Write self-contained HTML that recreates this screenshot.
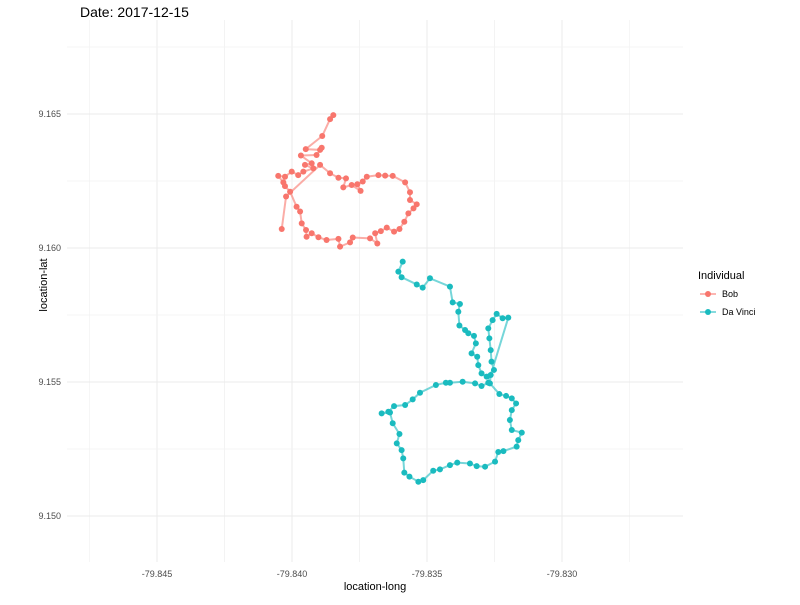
<!DOCTYPE html>
<html><head><meta charset="utf-8"><style>
body{margin:0;background:#fff;font-family:"Liberation Sans",sans-serif;}
svg text{font-family:"Liberation Sans",sans-serif;}
</style></head><body>
<svg id="chart" width="800" height="600">
<text x="80" y="17" font-size="14" fill="#000">Date: 2017-12-15</text>
<g id="grid"></g><g id="tracks"></g><g id="axes"></g>
<text x="375" y="590" font-size="11" text-anchor="middle" fill="#000">location-long</text>
<text transform="translate(47,285) rotate(-90)" font-size="11" text-anchor="middle" fill="#000">location-lat</text>
<g>
<text x="698" y="279" font-size="11" fill="#000">Individual</text>
<g><line x1="700" y1="294" x2="716" y2="294" stroke="#F8766D" stroke-width="1.5" opacity="0.7"/><circle cx="708" cy="294" r="3" fill="#F8766D"/><text x="722" y="297" font-size="9" fill="#000">Bob</text></g>
<g><line x1="700" y1="312" x2="716" y2="312" stroke="#1ABBBF" stroke-width="1.5" opacity="0.7"/><circle cx="708" cy="312" r="3" fill="#1ABBBF"/><text x="722" y="315" font-size="9" fill="#000">Da Vinci</text></g>
</g>
</svg>
<script>
const xTicks=[-79.845,-79.840,-79.835,-79.830];
const xTickLabels=["-79.845","-79.840","-79.835","-79.830"];
const yTicks=[9.150,9.155,9.160,9.165];
const yTickLabels=["9.150","9.155","9.160","9.165"];
const bobLon=[-79.83847,-79.83859,-79.83888,-79.83949,-79.83896,-79.83890,-79.83909,-79.83967,-79.83927,-79.83952,-79.83921,-79.83958,-79.83977,-79.84001,-79.84026,-79.84051,-79.84032,-79.84026,-79.84007,-79.83983,-79.83970,-79.83964,-79.83948,-79.83946,-79.83927,-79.83902,-79.83872,-79.83828,-79.83822,-79.83785,-79.83775,-79.83711,-79.83684,-79.83692,-79.83671,-79.83649,-79.83622,-79.83602,-79.83584,-79.83569,-79.83550,-79.83538,-79.83563,-79.83563,-79.83581,-79.83627,-79.83655,-79.83680,-79.83723,-79.83738,-79.83758,-79.83746,-79.83779,-79.83810,-79.83800,-79.83828,-79.83859,-79.83896,-79.84022,-79.84038];
const bobLat=[9.16496,9.16481,9.16418,9.16369,9.16366,9.16374,9.16347,9.16345,9.16316,9.16310,9.16297,9.16285,9.16272,9.16285,9.16266,9.16269,9.16245,9.16231,9.16210,9.16154,9.16136,9.16092,9.16067,9.16042,9.16055,9.16040,9.16030,9.16034,9.16005,9.16021,9.16039,9.16036,9.16017,9.16055,9.16063,9.16076,9.16061,9.16071,9.16098,9.16129,9.16148,9.16163,9.16179,9.16208,9.16245,9.16269,9.16270,9.16272,9.16266,9.16248,9.16238,9.16213,9.16235,9.16226,9.16260,9.16262,9.16279,9.16310,9.16192,9.16071];
const dvLon=[-79.83590,-79.83606,-79.83594,-79.83538,-79.83516,-79.83489,-79.83415,-79.83405,-79.83378,-79.83384,-79.83380,-79.83359,-79.83347,-79.83326,-79.83319,-79.83335,-79.83314,-79.83310,-79.83298,-79.83279,-79.83252,-79.83261,-79.83264,-79.83269,-79.83273,-79.83257,-79.83242,-79.83220,-79.83199,-79.83273,-79.83298,-79.83322,-79.83368,-79.83415,-79.83430,-79.83467,-79.83526,-79.83553,-79.83581,-79.83622,-79.83643,-79.83668,-79.83637,-79.83627,-79.83602,-79.83612,-79.83594,-79.83588,-79.83584,-79.83565,-79.83532,-79.83514,-79.83477,-79.83452,-79.83415,-79.83388,-79.83341,-79.83316,-79.83285,-79.83248,-79.83236,-79.83217,-79.83168,-79.83162,-79.83149,-79.83186,-79.83193,-79.83186,-79.83170,-79.83186,-79.83207,-79.83232,-79.83267,-79.83264];
const dvLat=[9.15949,9.15912,9.15891,9.15864,9.15852,9.15887,9.15856,9.15797,9.15791,9.15762,9.15711,9.15694,9.15682,9.15672,9.15644,9.15607,9.15594,9.15563,9.15532,9.15520,9.15545,9.15576,9.15619,9.15663,9.15700,9.15731,9.15754,9.15738,9.15740,9.15497,9.15485,9.15495,9.15501,9.15497,9.15497,9.15489,9.15460,9.15435,9.15414,9.15410,9.15389,9.15383,9.15386,9.15346,9.15306,9.15271,9.15246,9.15215,9.15162,9.15147,9.15128,9.15134,9.15169,9.15174,9.15190,9.15199,9.15196,9.15186,9.15184,9.15203,9.15239,9.15242,9.15259,9.15283,9.15311,9.15321,9.15358,9.15395,9.15420,9.15439,9.15448,9.15455,9.15495,9.15526];
const NS="http://www.w3.org/2000/svg";
function xs(v){return 292+(v+79.840)/0.005*135;}
function ys(v){return 248-(v-9.160)/0.005*134;}
function mk(tag,attrs,parent){const e=document.createElementNS(NS,tag);for(const k in attrs)e.setAttribute(k,attrs[k]);parent.appendChild(e);return e;}
const grid=document.getElementById('grid'),axes=document.getElementById('axes'),tracks=document.getElementById('tracks');
const L=67,R=683,T=20,B=562;
for(let i=0;i<xTicks.length;i++){
  const x=xs(xTicks[i]);
  const g=mk('line',{x1:x,x2:x,y1:T,y2:B,stroke:'#ebebeb','stroke-width':1},grid);
  
  
  [x-67.5,x+67.5].forEach(mx=>{if(mx>L&&mx<R){const m=mk('line',{x1:mx,x2:mx,y1:T,y2:B,stroke:'#f3f3f3','stroke-width':0.7},grid);
  
  }});
  const t=mk('text',{x:x,y:577,'font-size':9,'text-anchor':'middle',fill:'#4d4d4d'},axes);
  t.textContent=xTickLabels[i];
  
  
}
for(let i=0;i<yTicks.length;i++){
  const y=ys(yTicks[i]);
  const g=mk('line',{x1:L,x2:R,y1:y,y2:y,stroke:'#ebebeb','stroke-width':1},grid);
  
  
  [y-67,y+67].forEach(my=>{if(my>T&&my<B){const m=mk('line',{x1:L,x2:R,y1:my,y2:my,stroke:'#f3f3f3','stroke-width':0.7},grid);
  
  }});
  const t=mk('text',{x:61,y:y+3,'font-size':9,'text-anchor':'end',fill:'#4d4d4d'},axes);
  t.textContent=yTickLabels[i];
  
  
}
function track(lon,lat,color,name){
  const pts=lon.map((v,i)=>xs(v)+','+ys(lat[i])).join(' ');
  const p=mk('polyline',{points:pts,fill:'none',stroke:color,'stroke-width':2,opacity:0.6},tracks);
  
  
  lon.forEach((v,i)=>{const c=mk('circle',{cx:xs(v),cy:ys(lat[i]),r:3,fill:color},tracks);
  
  });
}
track(bobLon,bobLat,'#F8766D','bob');
track(dvLon,dvLat,'#1ABBBF','da-vinci');
</script>
</body></html>
